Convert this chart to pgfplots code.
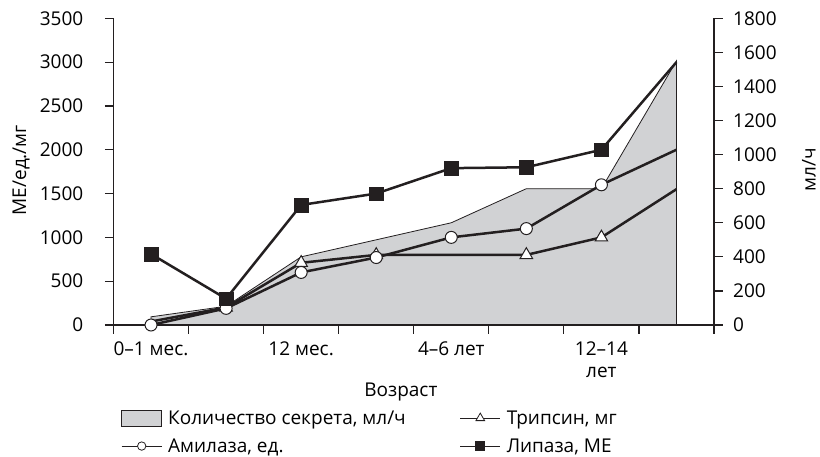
\documentclass[border=0pt]{standalone}
\usepackage{fontspec}
\setmainfont{Open Sans}
\usepackage{pgfplots}
\pgfplotsset{compat=1.18}
\definecolor{areagray}{RGB}{209,210,212}
\definecolor{ink}{RGB}{35,31,32}
\newcommand{\chartfont}{\fontsize{19bp}{21.7bp}\selectfont}
\pgfplotsset{
  leglinecode/.style={legend image code/.code={\draw[mark repeat=2,mark phase=2,##1] plot coordinates {(0bp,0bp) (20bp,0bp) (40bp,0bp)};}},
  legareacode/.style={legend image code/.code={\draw[##1] (0bp,-8bp) rectangle (40bp,8bp);}},
  common/.style={
    scale only axis, width=600.5bp, height=306.7bp,
    xmin=-0.5, xmax=7.5,
    tick align=outside, major tick length=8.5bp, minor tick length=8.5bp,
    axis line style={line width=1.3bp, ink},
    every tick/.style={line width=1.2bp, ink},
    tick label style={font=\chartfont, /pgf/number format/assume math mode=true, /pgf/number format/1000 sep={}},
    label style={font=\chartfont},
    scaled y ticks=false,
  },
}
\begin{document}
\begin{tikzpicture}[font=\chartfont]
\begin{axis}[common, name=axr,
  ymin=0, ymax=1800, ytick={0,200,...,1800},
  axis y line*=right, axis x line=none,
  yticklabel style={inner sep=0pt, anchor=west, xshift=10.5bp},
  ylabel={мл/ч}, ylabel style={at={(axis description cs:1.169,0.5067)}, anchor=base, inner sep=0pt},
]
\addplot[fill=areagray, draw=ink, line width=0.8bp] coordinates {(0,48) (1,110) (2,400) (3,500) (4,600) (5,800) (6,800) (7,1550)} \closedcycle;
\end{axis}
\begin{axis}[common, name=ax, clip=false,
  ymin=0, ymax=3500, ytick={0,500,...,3500},
  axis y line*=left, axis x line*=bottom,
  yticklabel style={inner sep=0pt, anchor=east, xshift=-21.5bp},
  xtick={-0.5,0.5,...,7.5}, xticklabels={},
  extra x ticks={0,2,4,6},
  extra x tick labels={0–1 мес., 12 мес., 4–6 лет, {12–14\\лет}},
  extra x tick style={major tick length=0pt, tick style={draw=none},
     tick label style={align=center, inner sep=0pt, anchor=north, yshift=-16.4bp}},
  ylabel={МЕ/ед./мг}, ylabel style={at={(axis description cs:-0.1457,0.505)}, anchor=base, inner sep=0pt},
  xlabel={Возраст}, xlabel style={at={(axis description cs:0.4785,-0.2338)}, anchor=base},
  legend style={at={(axis description cs:0.0125,-0.2755)}, anchor=north west, draw=none, fill=none,
     inner sep=0pt, row sep=12bp, font=\chartfont,
     /tikz/every even column/.append style={column sep=54bp},
     /tikz/every odd column/.append style={column sep=6bp},
     nodes={inner sep=0bp}},
  legend columns=2, legend cell align=left,
]
\addlegendimage{legareacode, fill=areagray, draw=ink, line width=0.8bp}
\addlegendentry{Количество секрета, мл/ч}
\addlegendimage{leglinecode, ink, line width=1bp, mark=triangle*, mark size=5bp, mark options={fill=white, line width=0.8bp}}
\addlegendentry{Трипсин, мг}
\addlegendimage{leglinecode, ink, line width=1bp, mark=*, mark size=4.2bp, mark options={fill=white, line width=0.8bp}}
\addlegendentry{Амилаза, ед.}
\addlegendimage{leglinecode, ink, line width=1bp, mark=square*, mark size=4.5bp, mark options={fill=ink, line width=0.8bp}}
\addlegendentry{Липаза, МЕ}

\addplot[ink, line width=2.5bp, mark=triangle*, mark size=7.2bp, mark indices={2,3,4,5,6},
  mark options={fill=white, line width=1bp}, forget plot]
  coordinates {(0,40) (1,200) (2,710) (3,800) (5,800) (6,1000) (7,1550)};
\addplot[ink, line width=2.5bp, mark=*, mark size=6bp, mark indices={1,2,3,4,5,6,7},
  mark options={fill=white, line width=1bp}, forget plot]
  coordinates {(0,0) (1,190) (2,600) (3,770) (4,1000) (5,1100) (6,1600) (7,2000)};
\addplot[ink, line width=2.5bp, mark=square*, mark size=6.8bp, mark indices={1,2,3,4,5,6,7},
  mark options={fill=ink, line width=0.5bp}, forget plot]
  coordinates {(0,810) (1,300) (2,1370) (3,1500) (4,1790) (5,1800) (6,2000) (7,3000)};
\end{axis}
\pgfresetboundingbox
\path[use as bounding box] ([shift={(-113.5bp,-131bp)}]ax.south west) rectangle ([shift={(106bp,18.3bp)}]ax.north east);
\end{tikzpicture}
\end{document}
